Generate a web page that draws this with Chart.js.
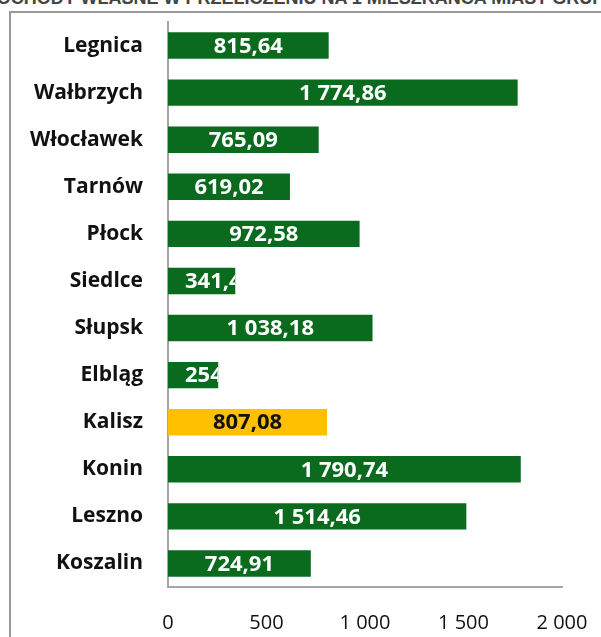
<!DOCTYPE html>
<html>
<head>
<meta charset="utf-8">
<script src="https://cdn.jsdelivr.net/npm/chart.js@4"></script>
<style>
  html, body { margin: 0; padding: 0; background: #fff; overflow: hidden; }
  #wrap { position: relative; width: 601px; height: 637px; }
  #title {
    position: absolute; top: -12px; left: -20px; width: 640px; white-space: nowrap;
    font: bold 18px "Liberation Sans", sans-serif; color: #444; text-align: center;
  }
  #frame {
    position: absolute; left: 9px; top: 11px; width: 700px; height: 700px;
    border-left: 2px solid #9a9a9a; border-top: 2px solid #9a9a9a;
  }
  canvas { position: absolute; left: 0; top: 0; }
</style>
</head>
<body>
<div id="wrap">
  <div id="title">DOCHODY WŁASNE W PRZELICZENIU NA 1 MIESZKAŃCA MIAST GRUPY</div>
  <div id="frame"></div>
  <canvas id="chart" width="601" height="637"></canvas>
</div>
<script>
// dane
const cities = ["Legnica", "Wałbrzych", "Włocławek", "Tarnów", "Płock", "Siedlce",
  "Słupsk", "Elbląg", "Kalisz", "Konin", "Leszno", "Koszalin"];
const values = [815.64, 1774.86, 765.09, 619.02, 972.58, 341.45,
  1038.18, 254.9, 807.08, 1790.74, 1514.46, 724.91];
const xTicks = [0, 500, 1000, 1500, 2000];
const highlight = "Kalisz";

const GREEN = "#0a6b1e";
const YELLOW = "#ffc000";

// format polski: spacja tysięcy, przecinek dziesiętny
function plNum(v, dec) {
  const parts = v.toFixed(dec).split(".");
  parts[0] = parts[0].replace(/\B(?=(\d{3})+(?!\d))/g, " ");
  return parts.join(",");
}

// etykiety w środku słupków, przycięte do słupka
const barLabels = {
  id: "barLabels",
  afterDatasetsDraw(chart) {
    const ctx = chart.ctx;
    const meta = chart.getDatasetMeta(0);
    ctx.save();
    ctx.font = "bold 22px 'Open Sans', sans-serif";
    ctx.textBaseline = "middle";
    ctx.textAlign = "left";
    meta.data.forEach((bar, i) => {
      const txt = plNum(values[i], 2);
      const w = ctx.measureText(txt).width;
      const left = bar.base, right = bar.x;
      const h = bar.height;
      let x = (left + right) / 2 - w / 2;
      if (x < left + 17) x = left + 17;
      ctx.save();
      ctx.beginPath();
      ctx.rect(left, bar.y - h / 2, right - left, h);
      ctx.clip();
      ctx.fillStyle = cities[i] === highlight ? "#111" : "#fff";
      ctx.fillText(txt, x, bar.y + 1);
      ctx.restore();
    });
    ctx.restore();
  }
};

new Chart(document.getElementById("chart").getContext("2d"), {
  type: "bar",
  data: {
    labels: cities,
    datasets: [{
      data: values,
      backgroundColor: cities.map(c => c === highlight ? YELLOW : GREEN),
      barPercentage: 0.56,
      categoryPercentage: 1.0,
      borderWidth: 0
    }]
  },
  options: {
    indexAxis: "y",
    responsive: false,
    animation: false,
    layout: { padding: { top: 22, right: 39, left: 0, bottom: 0 } },
    plugins: { legend: { display: false }, tooltip: { enabled: false } },
    scales: {
      x: {
        min: 0, max: 2000,
        afterBuildTicks(axis) { axis.ticks = xTicks.map(v => ({ value: v })); },
        afterFit(axis) {
          axis.height = 50;
          axis.paddingLeft = 0;
          axis.paddingRight = 0;
        },
        grid: { display: false, drawTicks: false },
        border: { color: "#a6a6a6", width: 2 },
        ticks: {
          padding: 24,
          color: "#111",
          font: { family: "'Open Sans', sans-serif", size: 20 },
          callback: v => plNum(v, 0)
        }
      },
      y: {
        afterFit(axis) {
          axis.width = 168;
          axis.paddingTop = 0;
          axis.paddingBottom = 0;
        },
        grid: { display: false, drawTicks: false },
        border: { color: "#a6a6a6", width: 2 },
        ticks: {
          padding: 25,
          color: "#111",
          font: { family: "'Open Sans', sans-serif", size: 21, weight: "bold" }
        }
      }
    }
  },
  plugins: [barLabels]
});
</script>
</body>
</html>
